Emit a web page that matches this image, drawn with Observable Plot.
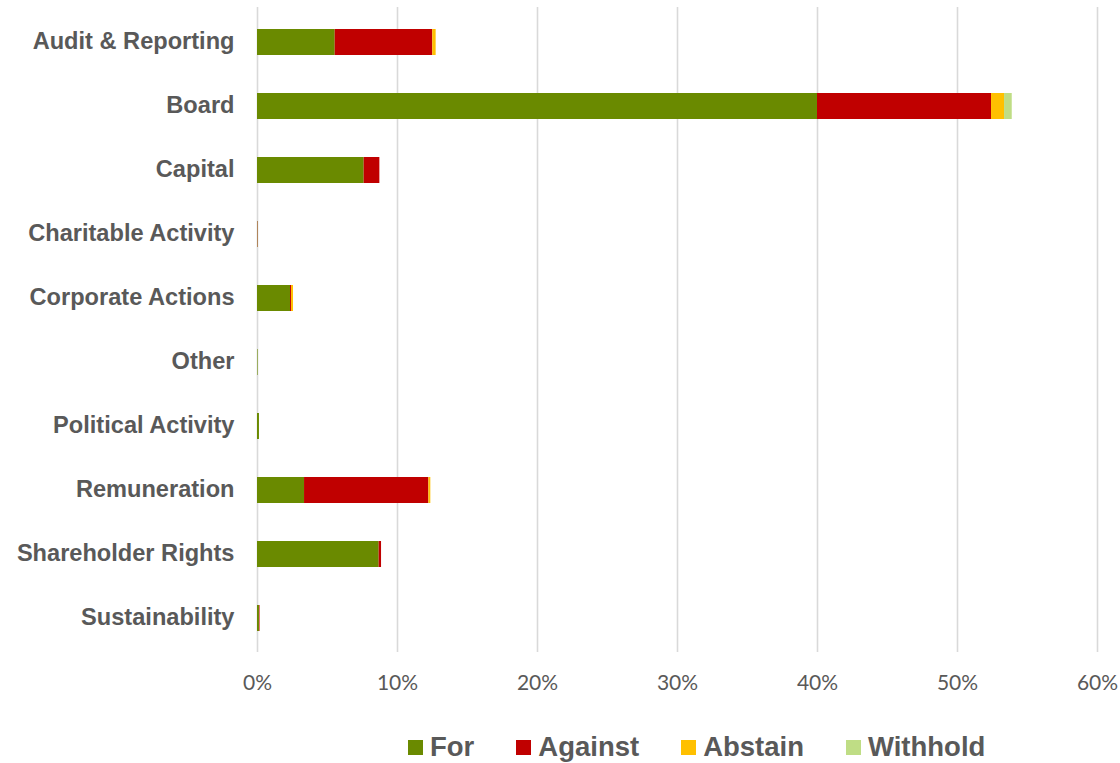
<!DOCTYPE html>
<html>
<head>
<meta charset="utf-8">
<script src="https://cdn.jsdelivr.net/npm/d3@7"></script>
<script src="https://cdn.jsdelivr.net/npm/@observablehq/plot@0.6"></script>
<style>
  html, body { margin: 0; padding: 0; background: #fff; }
  #chart { width: 1120px; }
  .legend { display: flex; justify-content: flex-start; height: 58px; box-sizing: border-box; padding-top: 26px; align-items: center;
    font-family: "Liberation Sans", Arial, sans-serif; font-weight: bold; font-size: 27.5px; color: #595959; padding-left: 408px; }
  .legend .item { display: flex; align-items: center; margin-right: 42px; }
  .legend .sw { width: 15px; height: 15px; margin-right: 7px; }
</style>
</head>
<body>
<div id="chart"></div>
<script>
const categories = ["Audit & Reporting", "Board", "Capital", "Charitable Activity", "Corporate Actions", "Other", "Political Activity", "Remuneration", "Shareholder Rights", "Sustainability"];
const seriesNames = ["For", "Against", "Abstain", "Withhold"];
const seriesColors = ["#6a8a00", "#c00000", "#ffc000", "#bfdd85"];
// values in percent
const forVals      = [5.55, 40.0, 7.62, 0.03, 2.36, 0.04, 0.14, 3.36, 8.69, 0.14];
const againstVals  = [6.97, 12.43, 1.12, 0.02, 0.07, 0.0, 0.0, 8.88, 0.17, 0.04];
const abstainVals  = [0.24, 0.93, 0.0, 0.0, 0.14, 0.0, 0.0, 0.14, 0.0, 0.0];
const withholdVals = [0.0, 0.55, 0.0, 0.0, 0.0, 0.0, 0.0, 0.0, 0.0, 0.0];
const xTicks = [0, 0.1, 0.2, 0.3, 0.4, 0.5, 0.6];

const seriesVals = [forVals, againstVals, abstainVals, withholdVals];
const data = [];
categories.forEach((c, i) => {
  seriesNames.forEach((s, j) => {
    data.push({category: c, series: s, value: seriesVals[j][i] / 100});
  });
});

const chart = Plot.plot({
  width: 1120,
  height: 705,
  marginLeft: 257,
  marginRight: 23,
  marginTop: 7,
  marginBottom: 53,
  x: {domain: [0, 0.6], ticks: xTicks, label: null},
  y: {domain: categories, paddingInner: 0.6, paddingOuter: 0.3, label: null},
  color: {domain: seriesNames, range: seriesColors},
  marks: [
    Plot.ruleX(xTicks, {stroke: "#d9d9d9", strokeWidth: 1.6}),
    Plot.barX(data, Plot.stackX({
      x: "value", y: "category", fill: "series",
      order: seriesNames
    })),
    Plot.axisX({
      ticks: xTicks, tickFormat: d3.format(".0%"), tickSize: 0, tickPadding: 23,
      fontSize: 21, fill: "#595959", fontFamily: "Lato, 'DejaVu Sans', sans-serif"
    }),
    Plot.axisY({
      tickSize: 0, tickPadding: 23, fontSize: 23.6, fontWeight: "bold", dy: -1.5,
      fill: "#595959", fontFamily: "'Liberation Sans', Arial, sans-serif"
    })
  ]
});
document.getElementById("chart").appendChild(chart);

const legend = document.createElement("div");
legend.className = "legend";
seriesNames.forEach((s, j) => {
  const item = document.createElement("div");
  item.className = "item";
  const sw = document.createElement("div");
  sw.className = "sw";
  sw.style.background = seriesColors[j];
  const t = document.createElement("span");
  t.textContent = s;
  item.appendChild(sw);
  item.appendChild(t);
  legend.appendChild(item);
});
document.getElementById("chart").appendChild(legend);
</script>
</body>
</html>
